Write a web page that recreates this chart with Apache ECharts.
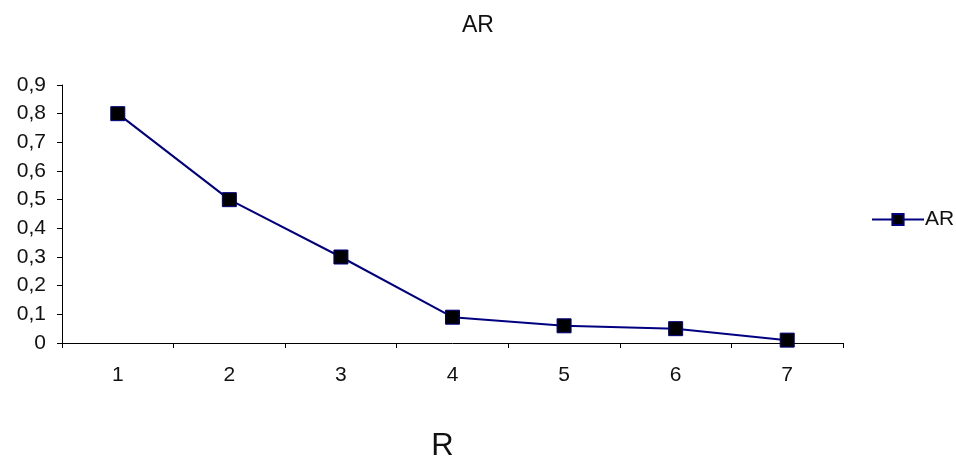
<!DOCTYPE html>
<html><head><meta charset="utf-8">
<script src="https://cdn.jsdelivr.net/npm/echarts@6/dist/echarts.min.js"></script>
<style>html,body{margin:0;padding:0;background:#fff}#c{width:956px;height:462px}</style>
</head><body><div id="c"></div>
<script>
const categories = ['1','2','3','4','5','6','7'];
const arValues = [0.8, 0.5, 0.3, 0.09, 0.06, 0.05, 0.01];
const yTicks = {min: 0, max: 0.9, step: 0.1};

const FONT = '"Liberation Sans", Arial, sans-serif';
const chart = echarts.init(document.getElementById('c'), null, {renderer: 'canvas'});
chart.setOption({
  animation: false,
  backgroundColor: '#fff',
  title: {text: 'AR', left: 'center', top: 9, textStyle: {fontFamily: FONT, fontSize: 23, fontWeight: 'normal', color: '#111'}},
  legend: {
    data: ['AR'], left: 866, top: 204, itemWidth: 52, itemHeight: 14, itemGap: 4,
    textStyle: {fontFamily: FONT, fontSize: 21, color: '#111', padding: [0,0,0,-4]}
  },
  grid: {left: 62, right: 113, top: 85, bottom: 119, containLabel: false, outerBoundsMode: 'none'},
  xAxis: {
    type: 'category', data: categories, boundaryGap: true,
    name: 'R', nameLocation: 'middle', nameGap: 88,
    nameTextStyle: {fontFamily: FONT, fontSize: 31, color: '#111', padding: [0, 20, 0, 0]},
    axisLine: {lineStyle: {color: '#000', width: 1}},
    axisTick: {show: true, length: 5, lineStyle: {color: '#000'}},
    axisLabel: {margin: 22, fontFamily: FONT, fontSize: 21, color: '#111'}
  },
  yAxis: {
    type: 'value', min: yTicks.min, max: yTicks.max, interval: yTicks.step,
    axisLine: {show: true, lineStyle: {color: '#000', width: 1}},
    axisTick: {show: true, length: 5, lineStyle: {color: '#000'}},
    splitLine: {show: false},
    axisLabel: {margin: 16, fontFamily: FONT, fontSize: 21, color: '#111',
      formatter: v => v === 0 ? '0' : v.toFixed(1).replace('.', ',')}
  },
  series: [{
    name: 'AR', type: 'line', data: arValues,
    symbol: 'rect', symbolSize: 14,
    lineStyle: {color: '#000080', width: 2},
    itemStyle: {color: '#000', borderColor: '#000080', borderWidth: 1}
  }]
});
</script></body></html>
